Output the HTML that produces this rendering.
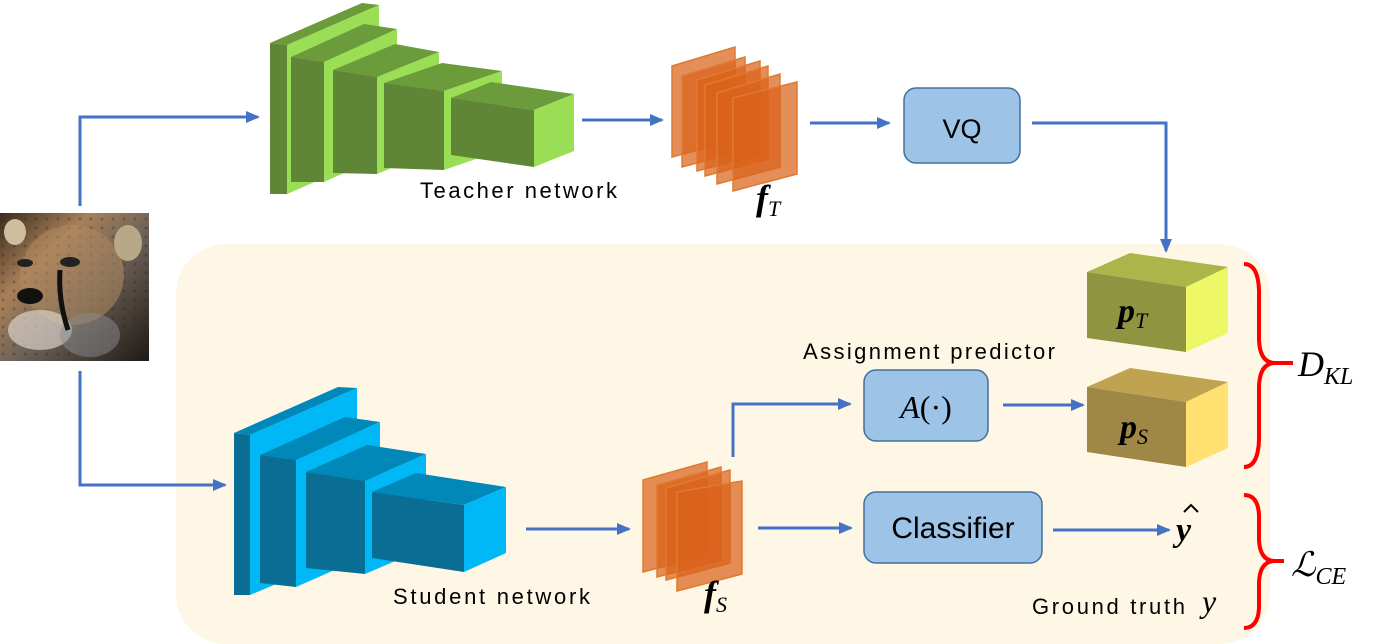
<!DOCTYPE html>
<html><head><meta charset="utf-8"><style>
html,body{margin:0;padding:0;background:#fff;width:1383px;height:644px;overflow:hidden;}
svg{display:block;}
.t{font-family:"Liberation Sans",sans-serif;fill:#000;}
.m{font-family:"Liberation Serif",serif;font-style:italic;fill:#000;}
</style></head><body>
<svg width="1383" height="644" viewBox="0 0 1383 644" xmlns="http://www.w3.org/2000/svg">
<defs>
<marker id="ah" markerWidth="14" markerHeight="12" refX="12" refY="6" orient="auto" markerUnits="userSpaceOnUse">
<path d="M0,0 L14,6 L0,12 z" fill="#4472c4"/></marker>
<linearGradient id="ch" x1="0" y1="0" x2="1" y2="1">
<stop offset="0" stop-color="#3a2a1c"/><stop offset="0.3" stop-color="#a88058"/><stop offset="0.55" stop-color="#6e6258"/><stop offset="1" stop-color="#1e1a16"/></linearGradient>
<pattern id="sp" width="11" height="9" patternUnits="userSpaceOnUse"><circle cx="3" cy="3" r="1.5" fill="#2a1e14" opacity="0.3"/></pattern>
</defs>
<!-- background panel -->
<rect x="176" y="244" width="1094" height="400" rx="50" fill="#fef7e5"/>
<!-- cheetah -->
<rect x="0" y="213" width="149" height="148" fill="url(#ch)"/>
<rect x="0" y="213" width="149" height="148" fill="url(#sp)"/>
<ellipse cx="72" cy="275" rx="52" ry="50" fill="#b08a60" opacity="0.55"/>
<ellipse cx="40" cy="330" rx="32" ry="20" fill="#d8d2c8" opacity="0.7"/>
<ellipse cx="90" cy="335" rx="30" ry="22" fill="#8a8c90" opacity="0.5"/>
<ellipse cx="30" cy="296" rx="13" ry="8" fill="#111"/>
<ellipse cx="25" cy="263" rx="8" ry="4" fill="#222"/>
<ellipse cx="70" cy="262" rx="10" ry="5" fill="#222"/>
<path d="M60,270 Q58,300 68,330" stroke="#111" stroke-width="5" fill="none"/>
<ellipse cx="15" cy="232" rx="11" ry="13" fill="#cdbf9e"/>
<ellipse cx="128" cy="243" rx="14" ry="18" fill="#b8a888"/>
<!-- connectors -->
<g stroke="#4472c4" stroke-width="3" fill="none">
<polyline points="80,206 80,117 258,117" marker-end="url(#ah)"/>
<polyline points="80,371 80,485 225,485" marker-end="url(#ah)"/>
<line x1="582" y1="120" x2="662" y2="120" marker-end="url(#ah)"/>
<line x1="810" y1="123" x2="889" y2="123" marker-end="url(#ah)"/>
<polyline points="1032,123 1166,123 1166,251" marker-end="url(#ah)"/>
<line x1="526" y1="529" x2="629" y2="529" marker-end="url(#ah)"/>
<line x1="758" y1="528" x2="851" y2="528" marker-end="url(#ah)"/>
<polyline points="733,457 733,404 850,404" marker-end="url(#ah)"/>
<line x1="1003" y1="405" x2="1083" y2="405" marker-end="url(#ah)"/>
<line x1="1053" y1="530" x2="1169" y2="530" marker-end="url(#ah)"/>
</g>
<!-- teacher network -->
<g>
<polygon points="270,43 362,3 379,5 287,45" fill="#6b9b3a"/><polygon points="287,45 379,5 379,154 287,194" fill="#9ade55"/><polygon points="270,43 287,45 287,194 270,194" fill="#5f8536"/>
<polygon points="291,57 364,24 397,29 324,62" fill="#6b9b3a"/><polygon points="324,62 397,29 397,149 324,182" fill="#9ade55"/><polygon points="291,57 324,62 324,182 291,182" fill="#5f8536"/>
<polygon points="333,70 395,44 439,52 377,77" fill="#6b9b3a"/><polygon points="377,77 439,52 439,148 377,174" fill="#9ade55"/><polygon points="333,70 377,77 377,174 333,173" fill="#5f8536"/>
<polygon points="384,83 442,63 502,71 444,91" fill="#6b9b3a"/><polygon points="444,91 502,71 502,150 444,170" fill="#9ade55"/><polygon points="384,83 444,91 444,170 384,168" fill="#5f8536"/>
<polygon points="451,98 491,82 574,94 534,110" fill="#6b9b3a"/><polygon points="534,110 574,94 574,151 534,167" fill="#9ade55"/><polygon points="451,98 534,110 534,167 451,155" fill="#5f8536"/>
</g>
<!-- student network -->
<g>
<polygon points="234,433 338,387 357,388 250,435" fill="#0088b8"/><polygon points="250,435 357,388 357,550 250,595" fill="#00b8f5"/><polygon points="234,433 250,435 250,595 234,595" fill="#0a6e94"/>
<polygon points="260,455 345,417 380,422 296,460" fill="#0088b8"/><polygon points="296,460 380,422 380,550 296,587" fill="#00b8f5"/><polygon points="260,455 296,460 296,587 260,583" fill="#0a6e94"/>
<polygon points="306,472 367,445 426,454 365,481" fill="#0088b8"/><polygon points="365,481 426,454 426,548 365,574" fill="#00b8f5"/><polygon points="306,472 365,481 365,574 306,568" fill="#0a6e94"/>
<polygon points="372,492 416,473 506,487 464,505" fill="#0088b8"/><polygon points="464,505 506,487 506,553 464,572" fill="#00b8f5"/><polygon points="372,492 464,505 464,572 372,558" fill="#0a6e94"/>
</g>
<!-- teacher feature maps -->
<g fill="#d9621a" fill-opacity="0.72" stroke="#e07a30" stroke-width="1.5">
<polygon points="672,66 735,47 735,140 672,157"/>
<polygon points="682,76 745,57 745,150 682,167"/>
<polygon points="697,80 760,61 760,154 697,171"/>
<polygon points="705,85 768,66 768,159 705,176"/>
<polygon points="717,93 780,74 780,167 717,184"/>
<polygon points="733,98 797,82 797,174 733,191"/>
</g>
<!-- student feature maps -->
<g fill="#d9621a" fill-opacity="0.72" stroke="#e07a30" stroke-width="1.5">
<polygon points="643,480 707,462 707,555 643,572"/>
<polygon points="657,485 721,467 721,560 657,577"/>
<polygon points="666,488 730,470 730,563 666,580"/>
<polygon points="677,492 742,481 742,574 677,591"/>
</g>
<!-- boxes -->
<rect x="904" y="88" width="116" height="75" rx="12" fill="#9dc3e6" stroke="#41719c" stroke-width="1.5"/>
<text x="962" y="138" class="t" font-size="27" text-anchor="middle">VQ</text>
<rect x="864" y="370" width="124" height="71" rx="12" fill="#9dc3e6" stroke="#41719c" stroke-width="1.5"/>
<text x="926" y="418" class="m" font-size="32" text-anchor="middle">A<tspan font-style="normal">(·)</tspan></text>
<rect x="864" y="492" width="178" height="71" rx="12" fill="#9dc3e6" stroke="#41719c" stroke-width="1.5"/>
<text x="953" y="538" class="t" font-size="30" text-anchor="middle">Classifier</text>
<!-- p boxes -->
<polygon points="1087,272 1130,253 1228,267 1186,287" fill="#aab54a"/>
<polygon points="1186,287 1228,267 1228,333 1186,352" fill="#eef766"/>
<polygon points="1087,272 1186,287 1186,352 1087,338" fill="#8f9440"/>
<text x="1118" y="322" class="m" font-size="34" font-weight="bold">p<tspan font-size="22" font-weight="normal" dy="6">T</tspan></text>
<polygon points="1087,387 1130,368 1228,382 1186,402" fill="#c0a350"/>
<polygon points="1186,402 1228,382 1228,448 1186,467" fill="#ffe070"/>
<polygon points="1087,387 1186,402 1186,467 1087,452" fill="#9f8845"/>
<text x="1120" y="438" class="m" font-size="34" font-weight="bold">p<tspan font-size="22" font-weight="normal" dy="6">S</tspan></text>
<!-- braces -->
<g stroke="#ff0000" stroke-width="4" fill="none">
<path d="M1244,264 Q1258,264 1259,290 L1259,340 Q1260,363 1275,363 L1293,363 M1275,363 Q1260,363 1259,386 L1259,440 Q1258,467 1244,467"/>
<path d="M1244,495 Q1258,495 1259,515 L1259,540 Q1260,561 1275,561 L1284,561 M1275,561 Q1260,561 1259,582 L1259,608 Q1258,628 1244,628"/>
</g>
<!-- labels -->
<text x="420" y="198" class="t" font-size="22" textLength="197" lengthAdjust="spacing">Teacher network</text>
<text x="393" y="604" class="t" font-size="22" textLength="197" lengthAdjust="spacing">Student network</text>
<text x="803" y="359" class="t" font-size="22" textLength="252" lengthAdjust="spacing">Assignment predictor</text>
<text x="1032" y="614" class="t" font-size="22" textLength="153" lengthAdjust="spacing">Ground truth</text>
<text x="1202" y="612" class="m" font-size="32">y</text>
<text x="1176" y="541" class="m" font-size="34" font-weight="bold">y</text>
<path d="M1184,512 L1191,505 L1198,512" stroke="#000" stroke-width="2" fill="none"/>
<text x="756" y="210" class="m" font-size="36" font-weight="bold">f<tspan font-size="22" font-weight="normal" dy="6">T</tspan></text>
<text x="704" y="606" class="m" font-size="36" font-weight="bold">f<tspan font-size="22" font-weight="normal" dy="6">S</tspan></text>
<text x="1298" y="376" class="m" font-size="36">D<tspan font-size="24" dy="8">KL</tspan></text>
<text x="1291" y="576" font-family="DejaVu Serif,serif" font-style="italic" font-size="34">ℒ<tspan font-family="Liberation Serif,serif" font-size="24" dy="8">CE</tspan></text>
</svg>
</body></html>
